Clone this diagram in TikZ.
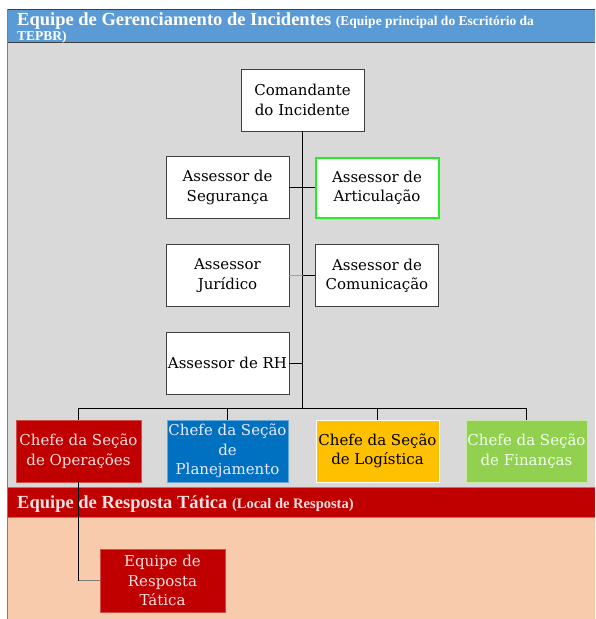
\documentclass[tikz,border=0pt]{standalone}
\usepackage{fontspec}
\setmainfont{DejaVu Serif}
\newfontfamily\headfont{Liberation Serif}
\definecolor{headerblue}{HTML}{5B9BD5}
\definecolor{bodygray}{HTML}{D9D9D9}
\definecolor{bandred}{HTML}{C00000}
\definecolor{peach}{HTML}{F8CBAD}
\definecolor{planblue}{HTML}{0070C0}
\definecolor{logyellow}{HTML}{FFC000}
\definecolor{fingreen}{HTML}{92D050}
\definecolor{artgreen}{HTML}{22EE22}
\definecolor{boxborder}{HTML}{404040}
\definecolor{pinktext}{HTML}{F6E0E0}
\definecolor{sepline}{HTML}{6F8FAF}
\definecolor{framegray}{HTML}{7F7F7F}
\definecolor{thinblue}{HTML}{7FA7CF}
\tikzset{
  orgbox/.style={draw=boxborder, line width=0.8pt, fill=white, minimum width=123pt, minimum height=62pt,
    inner sep=0pt, align=center, font=\fontsize{15}{19.5}\selectfont},
  chefebox/.style={orgbox, minimum width=125pt},
  conn/.style={draw=black, line width=1pt},
}
\begin{document}
\begin{tikzpicture}[x=1pt,y=-1pt]
\useasboundingbox (0,0) rectangle (595,619);
\fill[white] (0,0) rectangle (595,619);
% bands
\fill[headerblue] (7,9.5) rectangle (595,42);
\fill[bodygray] (7,42) rectangle (595,487);
\fill[bandred] (7,487) rectangle (595,517);
\fill[peach] (7,517) rectangle (595,619);
\draw[boxborder, line width=1pt] (7,9.5) -- (595,9.5);
\draw[boxborder, line width=1pt] (7,42) -- (595,42);
\draw[sepline, line width=0.8pt] (7,487) -- (595,487);
\draw[sepline, line width=0.8pt] (7,517) -- (595,517);
\draw[framegray, line width=1.2pt] (7.5,9) -- (7.5,619);
% header texts
\node[anchor=base west, inner sep=0pt, text=white, font=\headfont\bfseries] (h1) at (17,25)
  {\fontsize{18.5}{20}\selectfont Equipe de Gerenciamento de Incidentes \fontsize{13.5}{15}\selectfont(Equipe principal do Escritório da};
\node[anchor=base west, inner sep=0pt, text=white, font=\headfont\bfseries\fontsize{13.5}{15}\selectfont] (h2) at (17,40) {TEPBR)};
\node[anchor=base west, inner sep=0pt, text=pinktext, font=\headfont\bfseries] (h3) at (17,508)
  {\fontsize{18.5}{20}\selectfont Equipe de Resposta Tática \fontsize{14.5}{15}\selectfont(Local de Resposta)};
% nodes
\node[orgbox] (cmd) at (302.5,100) {Comandante\\do Incidente};
\node[orgbox] (seg) at (227.5,187.5) {Assessor de\\Segurança};
\node[orgbox, draw=artgreen, line width=2pt, minimum width=123pt, minimum height=60pt] (art) at (377,187.5) {Assessor de\\Articulação};
\node[orgbox] (jur) at (227.5,275.5) {Assessor\\Jurídico};
\node[orgbox] (com) at (377,275.5) {Assessor de\\Comunicação};
\node[orgbox] (rh) at (227.5,363) {Assessor de RH};
\node[chefebox, fill=bandred, draw=bandred!70!white, text=pinktext] (ops) at (78.5,451) {Chefe da Seção\\de Operações};
\node[chefebox, minimum width=121pt, fill=planblue, draw=planblue!60!white, text=blue!8!white] (plan) at (227.5,451) {Chefe da Seção\\de\\Planejamento};
\node[chefebox, minimum width=123pt, fill=logyellow, draw=white, text=black] (log) at (377.5,451) {Chefe da Seção\\de Logística};
\node[chefebox, minimum width=121pt, fill=fingreen, draw=fingreen!50!white, text=green!6!white] (fin) at (526.5,451) {Chefe da Seção\\de Finanças};
\node[chefebox, minimum height=63pt, fill=bandred, draw=bandred!70!white, text=pinktext] (ert) at (162.5,580.5) {Equipe de\\Resposta\\Tática};
% connectors
\coordinate (bus) at (302.5,408);
\draw[conn, line width=1.5pt] (cmd.south) -- (bus);
\draw[conn] (seg.east) -- (art.west);
\draw[thinblue, line width=1pt] (jur.east) -- (jur.east -| bus);
\draw[conn] (jur.east -| bus) -- (com.west);
\draw[conn] (rh.east) -- (rh.east -| bus);
\draw[conn] (ops.north) -- (ops.north |- bus) -- (fin.north |- bus) -- (fin.north);
\draw[conn] (plan.north) -- (plan.north |- bus);
\draw[conn] (log.north) -- (log.north |- bus);
\draw[black, line width=0.8pt] (ops.south) -- (ops.south |- ert.west);
\draw[framegray, line width=1pt] (ops.south |- ert.west) -- (ert.west);
\end{tikzpicture}
\end{document}
